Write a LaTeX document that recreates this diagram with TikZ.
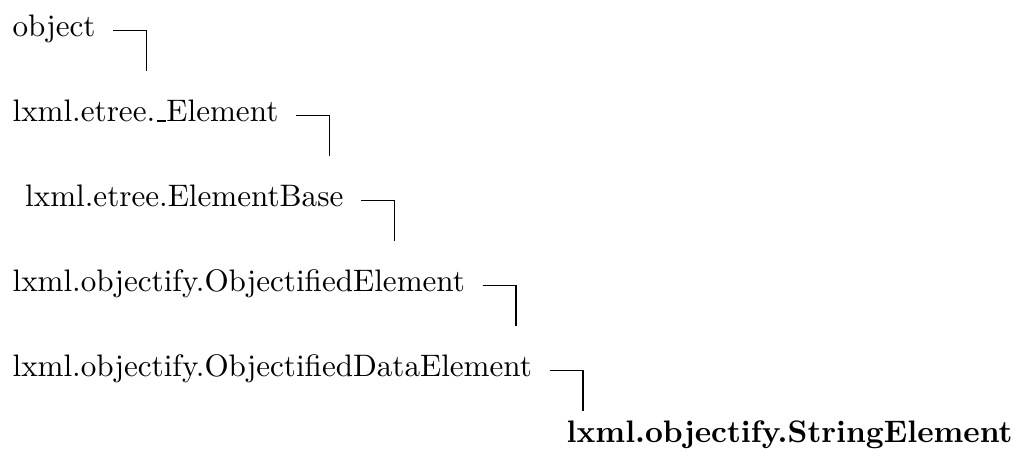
\documentclass[tikz,border=0pt]{standalone}
\usepackage{tikz}

\newcommand{\uscore}{\kern.06em\vbox{\hrule width.3em}}

\tikzset{
  cls/.style={inner sep=0pt,anchor=base west},
  hook/.style={black,line width=.4pt}
}

\begin{document}
\begin{tikzpicture}
  \useasboundingbox (0,0) rectangle (327pt,-144.7pt);

  \node[cls] (obj)     at (3.86pt,-11.8pt)  {object};
  \node[cls] (etElem)  at (3.86pt,-39.1pt)  {lxml.etree.\uscore Element};
  \node[cls] (etBase)  at (7.9pt,-66.45pt)  {lxml.etree.ElementBase};
  \node[cls] (objElem) at (3.86pt,-93.8pt)  {lxml.objectify.ObjectifiedElement};
  \node[cls] (objData) at (3.86pt,-121.1pt) {lxml.objectify.ObjectifiedDataElement};
  \node[cls] (objStr)  at (182pt,-142.4pt)  {\bfseries lxml.objectify.StringElement};

  \draw[hook] ([shift={(5.5pt,1.9pt)}]obj.base east) -- ++(10.7pt,0) -- ++(0,-13pt);
  \draw[hook] ([shift={(5.5pt,1.9pt)}]etElem.base east) -- ++(10.7pt,0) -- ++(0,-13pt);
  \draw[hook] ([shift={(5.5pt,1.9pt)}]etBase.base east) -- ++(10.7pt,0) -- ++(0,-13pt);
  \draw[hook] ([shift={(5.5pt,1.9pt)}]objElem.base east) -- ++(10.7pt,0) -- ++(0,-13pt);
  \draw[hook] ([shift={(5.5pt,1.9pt)}]objData.base east) -- ++(10.7pt,0) -- ++(0,-13pt);
\end{tikzpicture}
\end{document}
